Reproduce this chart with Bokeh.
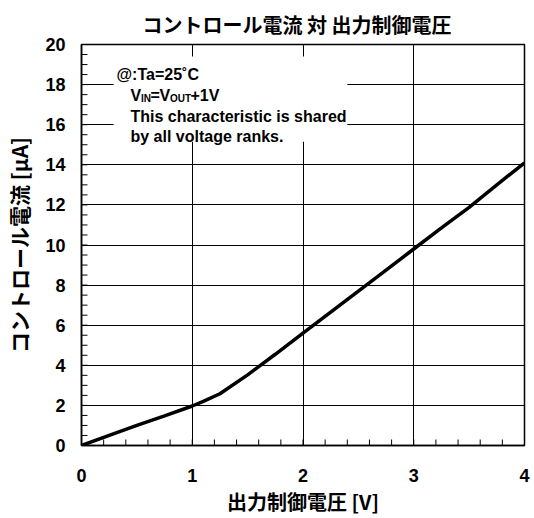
from bokeh.plotting import figure
from bokeh.models import FixedTicker, Label, BoxAnnotation, Range1d
from bokeh.embed import file_html
from bokeh.resources import INLINE

# data
voltage = [0, 0.25, 0.5, 0.75, 1.0, 1.1, 1.25, 1.5, 1.75, 2.0, 2.25, 2.5, 2.75, 3.0, 3.25, 3.5, 3.75, 4.0]
current = [0, 0.5, 1.0, 1.48, 1.97, 2.2, 2.58, 3.52, 4.55, 5.6, 6.65, 7.7, 8.75, 9.8, 10.85, 11.88, 13.0, 14.1]
x_ticks = [0, 1, 2, 3, 4]
x_minor = [i * 0.2 for i in range(21)]
y_ticks = list(range(0, 21, 2))
y_minor = [i * 0.5 for i in range(41)]

title_text = "コントロール電流 対 出力制御電圧"
x_label = "出力制御電圧 [V]"
y_label = "コントロール電流 [μA]"

JP = "Noto Sans CJK JP"
LAT = "Liberation Sans"

p = figure(width=532, height=518, output_backend="svg", toolbar_location=None,
           x_range=Range1d(0, 4), y_range=Range1d(0, 20),
           min_border_left=81, min_border_right=8, min_border_top=44, min_border_bottom=71)
p.background_fill_color = "white"
p.border_fill_color = "white"
p.outline_line_color = "black"
p.outline_line_width = 1.5

p.title.text = title_text
p.title.align = "left"
p.title.offset = 61
p.title.text_font = JP
p.title.text_font_size = "20px"
p.title.text_font_style = "bold"
p.title.text_color = "black"
p.title.standoff = 12

p.xaxis.ticker = FixedTicker(ticks=x_ticks, minor_ticks=x_minor)
p.yaxis.ticker = FixedTicker(ticks=y_ticks, minor_ticks=y_minor)

for ax in (p.xaxis[0], p.yaxis[0]):
    ax.axis_line_color = "black"
    ax.axis_line_width = 1.5
    ax.major_tick_in = 0
    ax.major_tick_out = 0
    ax.minor_tick_in = 0
    ax.minor_tick_out = 0
    ax.major_label_text_font = LAT
    ax.major_label_text_font_style = "bold"
    ax.major_label_text_font_size = "18px"
    ax.major_label_text_color = "black"
    ax.axis_label_text_font = JP
    ax.axis_label_text_font_style = "bold"
    ax.axis_label_text_color = "black"

p.xaxis.axis_label = x_label
p.yaxis.axis_label = y_label
p.xaxis.axis_label_text_font_size = "20px"
p.yaxis.axis_label_text_font_size = "21px"
p.xaxis.major_label_standoff = 23
p.xaxis.axis_label_standoff = 2
p.yaxis.major_label_standoff = 16
p.yaxis.axis_label_standoff = 8

p.xgrid.grid_line_color = "black"
p.ygrid.grid_line_color = "black"
p.xgrid.grid_line_width = 1
p.ygrid.grid_line_width = 1

# inward minor ticks, drawn from the tick arrays
tick_len_x = 0.3    # in µA units (about 6px)
tick_len_y = 0.054  # in V units (about 6px)
p.segment(x0=x_minor, y0=[0] * len(x_minor), x1=x_minor, y1=[tick_len_x] * len(x_minor),
          line_color="black", line_width=1)
p.segment(x0=[0] * len(y_minor), y0=y_minor, x1=[tick_len_y] * len(y_minor), y1=y_minor,
          line_color="black", line_width=1)

p.line(voltage, current, line_color="black", line_width=3.5)

# annotation box covering the grid
p.add_layout(BoxAnnotation(left=0.29, right=2.40, bottom=15.15, top=19.4,
                           fill_color="white", fill_alpha=1.0, line_alpha=0))

def lab(x, y, t, size="16px", xo=0):
    p.add_layout(Label(x=x, y=y, text=t, x_offset=xo, text_font=LAT, text_font_style="bold",
                       text_font_size=size, text_color="black", text_baseline="alphabetic",
                       text_align="left"))

lab(0.316, 18.51, "@:Ta=25˚C")
y2 = 17.47
ys = y2 - 0.17
x2 = 0.442
lab(x2, y2, "V", xo=0)
lab(x2, ys, "IN", size="10px", xo=10.5)
lab(x2, y2, "=", xo=20)
lab(x2, y2, "V", xo=29)
lab(x2, ys, "OUT", size="10px", xo=39.5)
lab(x2, y2, "+1V", xo=60)
lab(x2, 16.40, "This characteristic is shared")
lab(x2, 15.41, "by all voltage ranks.")

open("out.html", "w").write(file_html(p, INLINE))
